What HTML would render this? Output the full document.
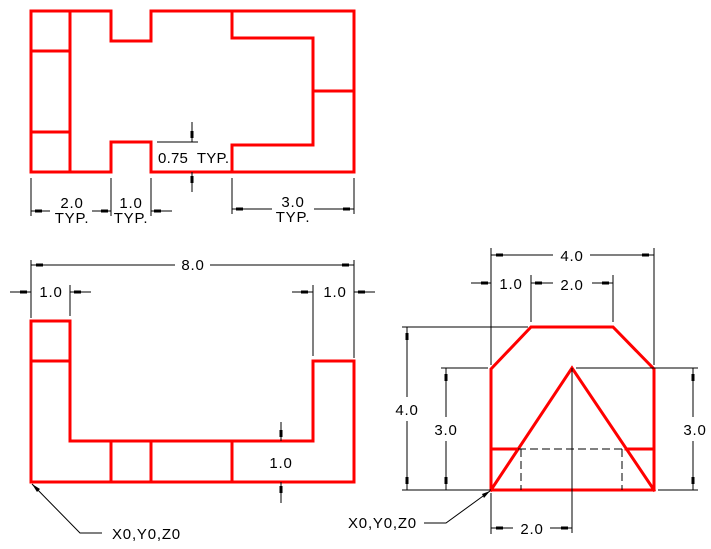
<!DOCTYPE html>
<html><head><meta charset="utf-8"><style>
html,body{margin:0;padding:0;background:#fff;}
svg{display:block;}
text{font-family:"Liberation Sans",sans-serif;font-size:15px;fill:#000;letter-spacing:0.8px;}
.r{stroke:#ff0000;stroke-width:3;fill:none;stroke-linecap:square;}
.k{stroke:#000;stroke-width:1;fill:none;}
.a{fill:#000;}
</style></head><body>
<svg width="711" height="549" viewBox="0 0 711 549" xmlns="http://www.w3.org/2000/svg">
<!-- TOP VIEW -->
<path class="r" d="M31,11 H111 V41 H151 V11 H354 V172 H151 V142 H111 V172 H31 Z"/>
<path class="r" d="M70,11 V172 M31,51 H70 M31,132 H70 M232,11 V38 H313 V145 H232 V172 M313,91 H354"/>
<path class="k" d="M31,178 V216 M111,178 V216 M151,178 V216 M232,178 V214 M354,178 V214"/>
<path class="k" d="M31,211 H50 M92,211 H111 M151,211 H172 M232,209 H272 M314,209 H354"/>
<rect class="a" x="35" y="209.5" width="7" height="3"/>
<rect class="a" x="101" y="209.5" width="7" height="3"/>
<rect class="a" x="154" y="209.5" width="7" height="3"/>
<rect class="a" x="236" y="207.5" width="7" height="3"/>
<rect class="a" x="343" y="207.5" width="7" height="3"/>
<text x="72" y="208" text-anchor="middle">2.0</text>
<text x="72" y="223" text-anchor="middle">TYP.</text>
<text x="131" y="208" text-anchor="middle">1.0</text>
<text x="131" y="223" text-anchor="middle">TYP.</text>
<text x="293" y="207" text-anchor="middle">3.0</text>
<text x="293" y="222" text-anchor="middle">TYP.</text>
<path class="k" d="M157,142 H198 M192,122 V142 M192,172 V192"/>
<rect class="a" x="190.5" y="131" width="3" height="7"/>
<rect class="a" x="190.5" y="176" width="3" height="7"/>
<text x="158" y="163" style="letter-spacing:0" textLength="71" lengthAdjust="spacing">0.75&#160;&#160;TYP.</text>

<!-- FRONT VIEW -->
<path class="r" d="M31,321 H70 V441 H313 V361 H354 V482 H31 Z"/>
<path class="r" d="M31,361 H70 M111,441 V482 M151,441 V482 M232,441 V482"/>
<path class="k" d="M31,260 V318 M354,260 V358 M31,265 H175 M210,265 H354"/>
<rect class="a" x="36" y="263.5" width="7" height="3"/>
<rect class="a" x="342" y="263.5" width="7" height="3"/>
<text x="193" y="270" text-anchor="middle">8.0</text>
<path class="k" d="M70,285 V316 M10,292 H31 M70,292 H91"/>
<rect class="a" x="20" y="290.5" width="7" height="3"/>
<rect class="a" x="74" y="290.5" width="7" height="3"/>
<text x="51" y="297" text-anchor="middle">1.0</text>
<path class="k" d="M313,285 V356 M292,292 H313 M354,292 H375"/>
<rect class="a" x="301" y="290.5" width="7" height="3"/>
<rect class="a" x="358" y="290.5" width="7" height="3"/>
<text x="335" y="297" text-anchor="middle">1.0</text>
<path class="k" d="M281,422 V441 M281,482 V503"/>
<rect class="a" x="279.5" y="430" width="3" height="7"/>
<rect class="a" x="279.5" y="486" width="3" height="7"/>
<text x="281" y="468" text-anchor="middle">1.0</text>
<path class="k" d="M32,484 L80,533 H102"/>
<polygon class="a" points="32,484 40,489 37,492"/>
<text x="112" y="539">X0,Y0,Z0</text>

<!-- SIDE VIEW -->
<path class="r" d="M491,369 L531,327 H613 L654,369 V490 H491 Z"/>
<path class="r" d="M491,449 H518 M626,449 H654 M491,490 L572,368 L654,490"/>
<path class="k" stroke-dasharray="8,4" d="M518,449 H626 M521,449 V490 M622,449 V490"/>
<path class="k" d="M572,368 V533"/>
<path class="k" d="M491,248 V365 M654,248 V365 M491,255 H553 M590,255 H654"/>
<rect class="a" x="496" y="253.5" width="7" height="3"/>
<rect class="a" x="642" y="253.5" width="7" height="3"/>
<text x="572" y="261" text-anchor="middle">4.0</text>
<path class="k" d="M531,275 V322 M613,275 V322 M471,283 H491 M531,283 H553 M592,283 H613"/>
<rect class="a" x="481" y="281.5" width="7" height="3"/>
<rect class="a" x="535" y="281.5" width="7" height="3"/>
<rect class="a" x="602" y="281.5" width="7" height="3"/>
<text x="511" y="289" text-anchor="middle">1.0</text>
<text x="572" y="290" text-anchor="middle">2.0</text>
<path class="k" d="M402,327 H528 M402,490 H491 M407,327 V397 M407,421 V490"/>
<rect class="a" x="405.5" y="333" width="3" height="7"/>
<rect class="a" x="405.5" y="477" width="3" height="7"/>
<text x="407" y="415" text-anchor="middle">4.0</text>
<path class="k" d="M441,368 H488 M446,368 V417 M446,441 V490"/>
<rect class="a" x="444.5" y="374" width="3" height="7"/>
<rect class="a" x="444.5" y="477" width="3" height="7"/>
<text x="446" y="435" text-anchor="middle">3.0</text>
<path class="k" d="M576,368 H698 M658,490 H698 M693,368 V417 M693,441 V490"/>
<rect class="a" x="691.5" y="374" width="3" height="7"/>
<rect class="a" x="691.5" y="477" width="3" height="7"/>
<text x="695" y="435" text-anchor="middle">3.0</text>
<path class="k" d="M491,493 V534 M491,528 H513 M550,528 H572"/>
<rect class="a" x="496" y="526.5" width="7" height="3"/>
<rect class="a" x="561" y="526.5" width="7" height="3"/>
<text x="532" y="534" text-anchor="middle">2.0</text>
<path class="k" d="M424,523 H446 L490,491"/>
<polygon class="a" points="490,491 482,494 484,498"/>
<text x="348" y="528">X0,Y0,Z0</text>
</svg>
</body></html>
